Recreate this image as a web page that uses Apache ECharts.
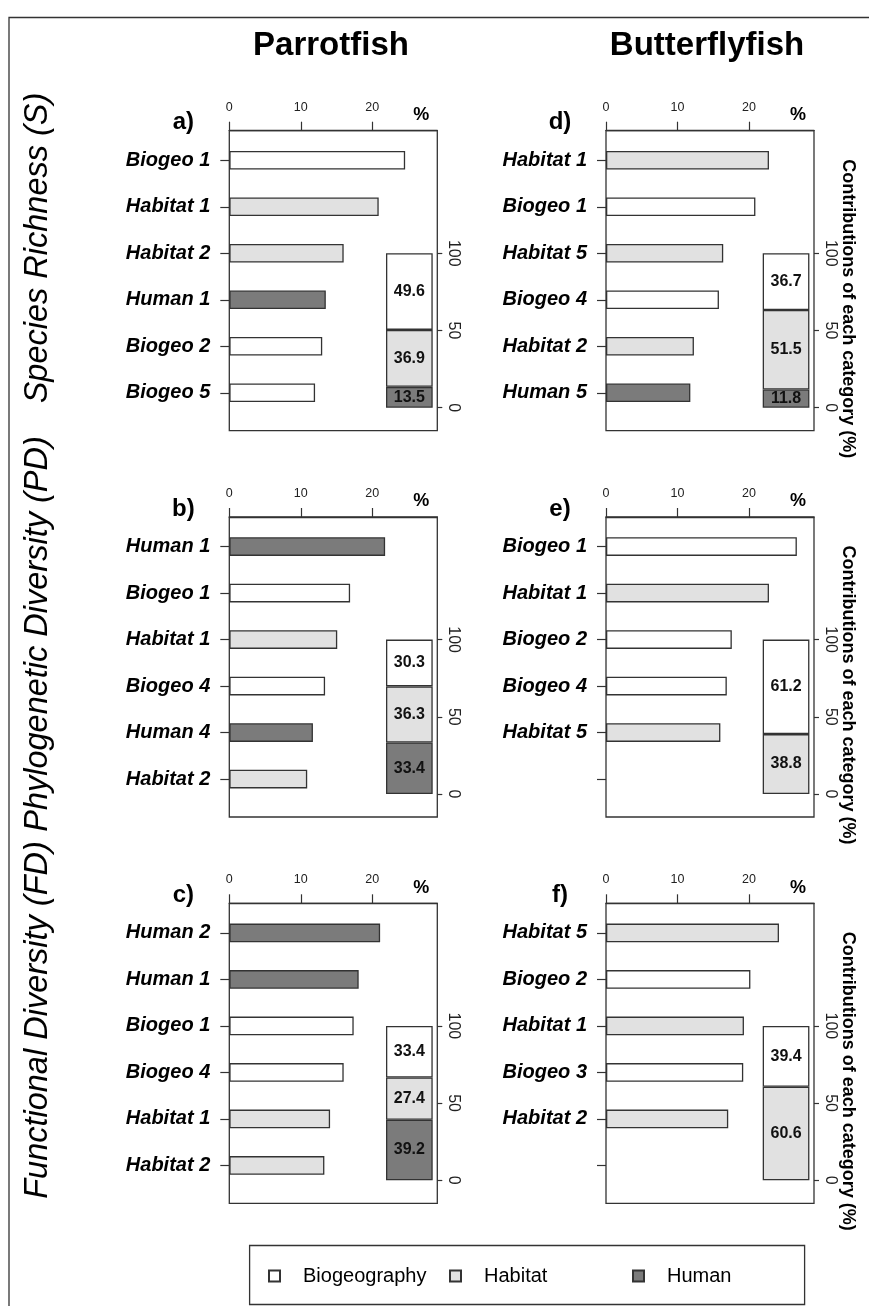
<!DOCTYPE html>
<html><head><meta charset="utf-8">
<script src="https://cdn.jsdelivr.net/npm/echarts@6/dist/echarts.min.js"></script>
<style>html,body{margin:0;padding:0;background:#fff}#c{width:869px;height:1306px}</style>
</head><body><div id="c"></div>
<script>
// ---------------- DATA ----------------
const SPECIES = ['Parrotfish', 'Butterflyfish'];
const METRICS = ['Species Richness (S)', 'Phylogenetic Diversity (PD)', 'Functional Diversity (FD)'];
const GROUPS = ['Biogeography', 'Habitat', 'Human'];
const X_TICKS = [0, 10, 20];
const INSET_TICKS = [0, 50, 100];
const CONTRIB_TITLE = 'Contributions of each category (%)';

// a) Parrotfish – S
const a_labels = ['Biogeo 1', 'Habitat 1', 'Habitat 2', 'Human 1', 'Biogeo 2', 'Biogeo 5'];
const a_groups = ['Biogeography', 'Habitat', 'Habitat', 'Human', 'Biogeography', 'Biogeography'];
const a_values = [24.6, 20.9, 16.0, 13.5, 13.0, 12.0];
const a_contrib = [49.6, 36.9, 13.5];          // Biogeography, Habitat, Human
// d) Butterflyfish – S
const d_labels = ['Habitat 1', 'Biogeo 1', 'Habitat 5', 'Biogeo 4', 'Habitat 2', 'Human 5'];
const d_groups = ['Habitat', 'Biogeography', 'Habitat', 'Biogeography', 'Habitat', 'Human'];
const d_values = [22.8, 20.9, 16.4, 15.8, 12.3, 11.8];
const d_contrib = [36.7, 51.5, 11.8];
// b) Parrotfish – PD
const b_labels = ['Human 1', 'Biogeo 1', 'Habitat 1', 'Biogeo 4', 'Human 4', 'Habitat 2'];
const b_groups = ['Human', 'Biogeography', 'Habitat', 'Biogeography', 'Human', 'Habitat'];
const b_values = [21.8, 16.9, 15.1, 13.4, 11.7, 10.9];
const b_contrib = [30.3, 36.3, 33.4];
// e) Butterflyfish – PD
const e_labels = ['Biogeo 1', 'Habitat 1', 'Biogeo 2', 'Biogeo 4', 'Habitat 5', ''];
const e_groups = ['Biogeography', 'Habitat', 'Biogeography', 'Biogeography', 'Habitat', null];
const e_values = [26.7, 22.8, 17.6, 16.9, 16.0, null];
const e_contrib = [61.2, 38.8, null];
// c) Parrotfish – FD
const c_labels = ['Human 2', 'Human 1', 'Biogeo 1', 'Biogeo 4', 'Habitat 1', 'Habitat 2'];
const c_groups = ['Human', 'Human', 'Biogeography', 'Biogeography', 'Habitat', 'Habitat'];
const c_values = [21.1, 18.1, 17.4, 16.0, 14.1, 13.3];
const c_contrib = [33.4, 27.4, 39.2];
// f) Butterflyfish – FD
const f_labels = ['Habitat 5', 'Biogeo 2', 'Habitat 1', 'Biogeo 3', 'Habitat 2', ''];
const f_groups = ['Habitat', 'Biogeography', 'Habitat', 'Biogeography', 'Habitat', null];
const f_values = [24.2, 20.2, 19.3, 19.2, 17.1, null];
const f_contrib = [39.4, 60.6, null];

// ---------------- STYLE / LAYOUT ----------------
const FONT = '"Liberation Sans", Arial, Helvetica, sans-serif';
const COLORS = { Biogeography: '#ffffff', Habitat: '#e1e1e1', Human: '#7b7b7b' };
const EDGE = '#333333';
const ROW_TOP = [130.7, 517.0, 903.3];
const COL_LEFT = [229.3, 606.0];
const FW = 208, FH = 300, X_MAX = 29.1;

const PANELS = [
  { letter: 'a)', labels: a_labels, groups: a_groups, values: a_values, contrib: a_contrib },
  { letter: 'd)', labels: d_labels, groups: d_groups, values: d_values, contrib: d_contrib },
  { letter: 'b)', labels: b_labels, groups: b_groups, values: b_values, contrib: b_contrib },
  { letter: 'e)', labels: e_labels, groups: e_groups, values: e_values, contrib: e_contrib },
  { letter: 'c)', labels: c_labels, groups: c_groups, values: c_values, contrib: c_contrib },
  { letter: 'f)', labels: f_labels, groups: f_groups, values: f_values, contrib: f_contrib }
];

const grid = [], xAxis = [], yAxis = [], series = [], graphic = [];

PANELS.forEach((p, i) => {
  const r = Math.floor(i / 2), c = i % 2;
  const T = ROW_TOP[r], L = COL_LEFT[c];

  // frame box
  grid.push({ left: L, top: T, width: FW, height: FH, show: true, borderColor: EDGE, borderWidth: 1.3, backgroundColor: 'rgba(0,0,0,0)', z: 3 });

  // main bar grid
  const gBar = grid.length;
  grid.push({ left: L, top: T + 6.35, width: FW, height: 279 });
  xAxis.push({
    gridIndex: gBar, type: 'value', position: 'top', offset: 6.35, min: 0, max: X_MAX,
    axisLine: { show: true, lineStyle: { color: EDGE, width: 1.3 } },
    axisTick: { show: true, length: 9, customValues: X_TICKS, lineStyle: { color: EDGE, width: 1.2 } },
    axisLabel: { customValues: X_TICKS, margin: 17, fontSize: 12.5, color: '#222', fontFamily: FONT },
    splitLine: { show: false }
  });
  yAxis.push({
    gridIndex: gBar, type: 'category', data: p.labels, inverse: true,
    axisLine: { show: false },
    axisTick: { show: true, alignWithLabel: true, interval: 0, length: 9, lineStyle: { color: EDGE, width: 1.2 } },
    axisLabel: { interval: 0, margin: 19, fontSize: 20, fontWeight: 'bold', fontStyle: 'italic', color: '#000', fontFamily: FONT },
    splitLine: { show: false }
  });
  series.push({
    type: 'bar', xAxisIndex: xAxis.length - 1, yAxisIndex: yAxis.length - 1, barWidth: 18.6,
    data: p.values.map((v, k) => ({ value: v, itemStyle: { color: p.groups[k] ? COLORS[p.groups[k]] : '#fff' } })),
    itemStyle: { borderColor: EDGE, borderWidth: 1.3 }, silent: true
  });

  // inset stacked bar
  const gIn = grid.length;
  grid.push({ left: L + 156.7, top: T + 122.6, width: 46.7, height: 154.4 });
  xAxis.push({ gridIndex: gIn, type: 'category', data: [''], show: false });
  yAxis.push({
    gridIndex: gIn, type: 'value', min: 0, max: 100, interval: 50, position: 'right', offset: FW - 156.7 - 46.7,
    axisLine: { show: false },
    axisTick: { show: true, length: 5, lineStyle: { color: EDGE, width: 1.2 } },
    axisLabel: { rotate: -90, margin: 8, fontSize: 16, color: '#222', fontFamily: FONT },
    splitLine: { show: false }
  });
  [2, 1, 0].forEach(k => {
    series.push({
      type: 'bar', name: GROUPS[k], stack: 'in' + i, xAxisIndex: xAxis.length - 1, yAxisIndex: yAxis.length - 1,
      barWidth: '100%', data: [p.contrib[k]], silent: true,
      itemStyle: { color: COLORS[GROUPS[k]], borderColor: EDGE, borderWidth: 1.3 },
      label: { show: true, position: 'inside', formatter: d => d.value == null ? '' : Number(d.value).toFixed(1),
               fontSize: 16, fontWeight: 'bold', color: '#111', fontFamily: FONT }
    });
  });

  // panel letter and %
  graphic.push({ type: 'text', x: L - 46, y: T - 8, style: { text: p.letter, font: 'bold 24px ' + FONT, fill: '#000', align: 'center', verticalAlign: 'middle' } });
  graphic.push({ type: 'text', x: L + 192, y: T - 15.5, style: { text: '%', font: 'bold 18px ' + FONT, fill: '#000', align: 'center', verticalAlign: 'middle' } });
});

// titles
const TITLE_X = [331, 707];
SPECIES.forEach((s, c) => graphic.push({ type: 'text', x: TITLE_X[c], y: 46, style: { text: s, font: 'bold 33px ' + FONT, fill: '#000', align: 'center', verticalAlign: 'middle' } }));
// row labels
const ROW_LABEL_Y = [248, 634, 1020];
METRICS.forEach((m, r) => graphic.push({ type: 'text', x: 38, y: ROW_LABEL_Y[r], rotation: Math.PI / 2, style: { text: m, font: 'italic 32.5px ' + FONT, fill: '#000', align: 'center', verticalAlign: 'middle' } }));
// contributions labels
ROW_TOP.forEach(T => graphic.push({ type: 'text', x: 848, y: T + 178, rotation: -Math.PI / 2, style: { text: CONTRIB_TITLE, font: 'bold 18px ' + FONT, fill: '#000', align: 'center', verticalAlign: 'middle' } }));
// outer border (left & top) and legend box
graphic.push({ type: 'polyline', shape: { points: [[9, 1306], [9, 17.5], [869, 17.5]] }, style: { stroke: EDGE, lineWidth: 1.3, fill: null } });
graphic.push({ type: 'rect', shape: { x: 249.6, y: 1245.5, width: 555, height: 59 }, style: { stroke: EDGE, lineWidth: 1.3, fill: null } });

const LEG_X = [268, 449, 632];
const legend = GROUPS.map((g, k) => ({
  data: [g], left: LEG_X[k], top: 1266, padding: 0, icon: 'rect', itemWidth: 11, itemHeight: 11, selectedMode: false,
  textStyle: { fontSize: 20, color: '#000', fontFamily: FONT, padding: [0, 0, 0, 18] }
}));

const chart = echarts.init(document.getElementById('c'), null, { renderer: 'canvas' });
chart.setOption({
  backgroundColor: '#fff', animation: false,
  textStyle: { fontFamily: FONT },
  grid, xAxis, yAxis, series, legend, graphic
});
</script></body></html>
